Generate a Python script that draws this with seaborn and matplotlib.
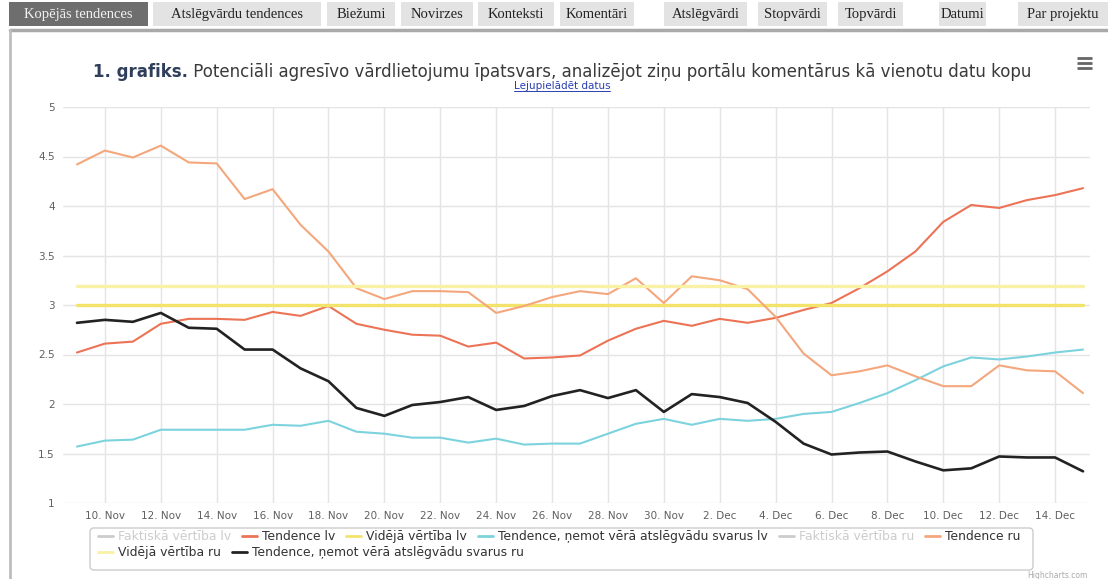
import numpy as np
import pandas as pd
import matplotlib
matplotlib.use("Agg")
import matplotlib.pyplot as plt
import seaborn as sns
from matplotlib.lines import Line2D
from matplotlib.patches import Rectangle, FancyBboxPatch

# %% Dati (nolasīti no attēla)
datumi = pd.date_range("2016-11-09", "2016-12-15", freq="D")

tendence_lv = [2.52, 2.61, 2.63, 2.81, 2.86, 2.86, 2.85, 2.93, 2.89, 2.99,
               2.81, 2.75, 2.70, 2.69, 2.58, 2.62, 2.46, 2.47, 2.49, 2.64,
               2.76, 2.84, 2.79, 2.86, 2.82, 2.87, 2.95, 3.02, 3.17, 3.34,
               3.54, 3.84, 4.01, 3.98, 4.06, 4.11, 4.18]
tendence_ru = [4.42, 4.56, 4.49, 4.61, 4.44, 4.43, 4.07, 4.17, 3.81, 3.54,
               3.17, 3.06, 3.14, 3.14, 3.13, 2.92, 2.99, 3.08, 3.14, 3.11,
               3.27, 3.02, 3.29, 3.25, 3.16, 2.88, 2.51, 2.29, 2.33, 2.39,
               2.28, 2.18, 2.18, 2.39, 2.34, 2.33, 2.11]
svari_lv = [1.57, 1.63, 1.64, 1.74, 1.74, 1.74, 1.74, 1.79, 1.78, 1.83,
            1.72, 1.70, 1.66, 1.66, 1.61, 1.65, 1.59, 1.60, 1.60, 1.70,
            1.80, 1.85, 1.79, 1.85, 1.83, 1.85, 1.90, 1.92, 2.01, 2.11,
            2.24, 2.38, 2.47, 2.45, 2.48, 2.52, 2.55]
svari_ru = [2.82, 2.85, 2.83, 2.92, 2.77, 2.76, 2.55, 2.55, 2.36, 2.23,
            1.96, 1.88, 1.99, 2.02, 2.07, 1.94, 1.98, 2.08, 2.14, 2.06,
            2.14, 1.92, 2.10, 2.07, 2.01, 1.82, 1.60, 1.49, 1.51, 1.52,
            1.42, 1.33, 1.35, 1.47, 1.46, 1.46, 1.32]
videja_lv = 3.00
videja_ru = 3.19

nosaukumi = ["Faktiskā vērtība lv", "Tendence lv", "Vidējā vērtība lv",
             "Tendence, ņemot vērā atslēgvādu svarus lv", "Faktiskā vērtība ru",
             "Tendence ru", "Vidējā vērtība ru",
             "Tendence, ņemot vērā atslēgvādu svarus ru"]
krasas = ["#cccccc", "#ec7356", "#f3e36a", "#7cd3dd", "#cccccc",
          "#f4a77c", "#f9f1a6", "#222222"]
slepti = [True, False, False, False, True, False, False, False]

cilnes = ["Kopējās tendences", "Atslēgvārdu tendences", "Biežumi", "Novirzes",
          "Konteksti", "Komentāri", "Atslēgvārdi", "Stopvārdi", "Topvārdi",
          "Datumi", "Par projektu"]
cilnu_x = [(9, 148), (153, 321), (327, 395), (401, 473), (478, 554), (560, 634),
           (664, 747), (758, 827), (838, 903), (939, 986), (1018, 1108)]

# %% Tabula seaborn vajadzībām
rindas = {
    "Tendence lv": tendence_lv,
    "Vidējā vērtība lv": [videja_lv] * len(datumi),
    "Tendence, ņemot vērā atslēgvādu svarus lv": svari_lv,
    "Tendence ru": tendence_ru,
    "Vidējā vērtība ru": [videja_ru] * len(datumi),
    "Tendence, ņemot vērā atslēgvādu svarus ru": svari_ru,
}
df = pd.concat([pd.DataFrame({"datums": datumi, "vertiba": v, "serija": k})
                for k, v in rindas.items()], ignore_index=True)

# %% Zīmējums
sns.set_style("white")
plt.rcParams["font.family"] = ["DejaVu Sans"]

W, H = 1108, 579
fig = plt.figure(figsize=(W / 100, H / 100), dpi=100)

# fona slānis lapas elementiem (pikseļu koordinātes)
bg = fig.add_axes([0, 0, 1, 1], zorder=-1)
bg.set_xlim(0, W)
bg.set_ylim(H, 0)
bg.axis("off")

for i, (nos, (x0, x1)) in enumerate(zip(cilnes, cilnu_x)):
    aktiva = i == 0
    bg.add_patch(Rectangle((x0, 2), x1 - x0, 24,
                           facecolor="#6e6e6e" if aktiva else "#e3e3e3", edgecolor="none"))
    bg.text((x0 + x1) / 2, 14.5, nos, ha="center", va="center",
            family="Liberation Serif", fontsize=10.5,
            color="#f2f2f2" if aktiva else "#222222")
bg.plot([10, W], [30, 30], color="#a9a9a9", lw=2.5)
bg.plot([10, 10], [30, H], color="#bdbdbd", lw=2)

# izvēlnes ikona
for yy in (58, 63, 68):
    bg.plot([1077, 1092], [yy, yy], color="#666666", lw=2, solid_capstyle="butt")

# leģendas rāmis
bg.add_patch(FancyBboxPatch((90, 528), 943, 42,
                            boxstyle="round,pad=0,rounding_size=4",
                            facecolor="white", edgecolor="#cccccc", lw=1))
bg.text(1088, 575, "Highcharts.com", ha="right", va="center", fontsize=5.5, color="#aaaaaa")

# virsraksts
t1 = fig.text(93 / W, 1 - 72 / H, "1. grafiks.", fontsize=12, fontweight="bold",
              color="#2f3e5a", ha="left", va="center")
fig.canvas.draw()
plt.annotate(" Potenciāli agresīvo vārdlietojumu īpatsvars, analizējot ziņu portālu komentārus kā vienotu datu kopu",
             xy=(1, 0.5), xycoords=t1, ha="left", va="center", fontsize=12, color="#3a3a3a")
saite = fig.text(562 / W, 1 - 86 / H, "Lejupielādēt datus", fontsize=7.5, color="#2a3eb1",
                 ha="center", va="center")
fig.canvas.draw()
bb = saite.get_window_extent()
fig.add_artist(Line2D([bb.x0 / W, bb.x1 / W], [(bb.y0 + 0.5) / H] * 2, color="#2a3eb1", lw=0.7))

# galvenā ass
ax = fig.add_axes([63 / W, 1 - 503 / H, (1090 - 63) / W, (503 - 107) / H])
ax.set_facecolor("none")

for nos, kr in zip(nosaukumi, krasas):
    if nos not in rindas:
        continue
    biezums = 2.4 if "Vidējā" in nos else (1.9 if kr == "#222222" else 1.5)
    sns.lineplot(data=df[df["serija"] == nos], x="datums", y="vertiba", color=kr,
                 lw=biezums, ax=ax, legend=False)

ax.set_ylim(1, 5)
ax.set_yticks([1, 1.5, 2, 2.5, 3, 3.5, 4, 4.5, 5])
ax.set_yticklabels(["1", "1.5", "2", "2.5", "3", "3.5", "4", "4.5", "5"])
ax.set_xlim(datumi[0] - pd.Timedelta(hours=12), datumi[-1] + pd.Timedelta(hours=6))
tikli = datumi[1::2]
ax.set_xticks(tikli)
ax.set_xticklabels([f"{d.day}. {d:%b}" for d in tikli])
ax.set_xlabel("")
ax.set_ylabel("")
ax.grid(True, color="#e4e4e4", lw=1)
ax.set_axisbelow(True)
for s in ax.spines.values():
    s.set_visible(False)
ax.tick_params(axis="both", length=0, labelsize=7.5, labelcolor="#606060")
ax.tick_params(axis="y", pad=6)
ax.tick_params(axis="x", pad=6)

# leģenda divās rindās
rokturi = [Line2D([], [], color=k, lw=2) for k in krasas]
kopigi = dict(loc="upper left", frameon=False, fontsize=8.9, handlelength=1.2,
              handletextpad=0.4, columnspacing=0.9, borderpad=0, borderaxespad=0)
rinda1 = fig.legend(rokturi[:6], nosaukumi[:6], ncol=6,
                    bbox_to_anchor=(98 / W, 1 - 530 / H), **kopigi)
rinda2 = fig.legend(rokturi[6:], nosaukumi[6:], ncol=2,
                    bbox_to_anchor=(98 / W, 1 - 546 / H), **kopigi)
for leg, sl in ((rinda1, slepti[:6]), (rinda2, slepti[6:])):
    for txt, s in zip(leg.get_texts(), sl):
        txt.set_color("#cccccc" if s else "#333333")

fig.savefig("out.png", dpi=100)
